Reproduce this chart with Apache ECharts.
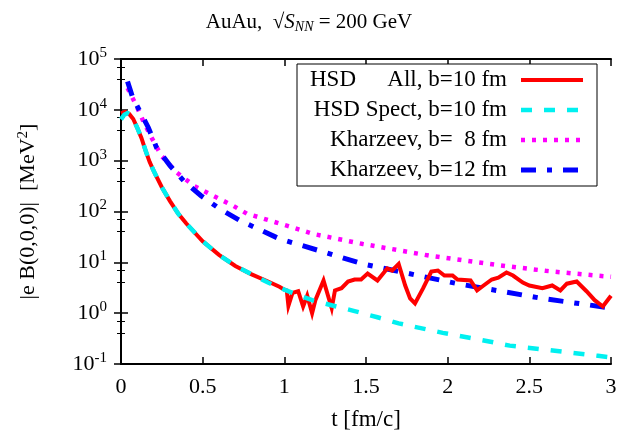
<!DOCTYPE html>
<html>
<head>
<meta charset="utf-8">
<script src="https://cdn.jsdelivr.net/npm/echarts@6/dist/echarts.min.js"></script>
<style>html,body{margin:0;padding:0;background:#fff}#c{width:621px;height:436px}</style>
</head>
<body>
<div id="c"></div>
<script>
// ---- data ----
const tAll = [0,0.025,0.05,0.075,0.1,0.125,0.15,0.175,0.2,0.25,0.3,0.35,0.4,0.5,0.6,0.7,0.8,0.9,0.97,1.0,1.015,1.025,1.05,1.085,1.115,1.14,1.17,1.19,1.24,1.29,1.31,1.35,1.39,1.43,1.47,1.51,1.57,1.63,1.66,1.70,1.74,1.77,1.80,1.85,1.90,1.94,1.98,2.03,2.06,2.14,2.18,2.22,2.27,2.31,2.36,2.40,2.46,2.50,2.58,2.64,2.69,2.73,2.79,2.85,2.90,2.95,3.0];
const bAll = [8500,9100,8300,6600,4400,2800,1600,950,630,300,160,91,58,26,14,8.5,5.8,4.2,3.3,2.9,2.8,1.4,2.5,2.7,1.35,2.2,1.0,1.8,4.4,1.25,2.8,3.1,4.2,4.6,4.6,6.0,4.4,7.6,6.9,9.3,3.5,1.95,1.55,3.1,6.6,6.9,5.5,5.5,4.6,4.4,2.8,3.5,4.6,5.0,6.3,5.5,4.0,3.5,3.1,3.5,2.8,3.8,4.2,2.7,1.8,1.35,2.2];
const tSpect = [0,0.02,0.04,0.06,0.075,0.1,0.125,0.15,0.175,0.2,0.25,0.3,0.35,0.4,0.5,0.6,0.7,0.8,0.9,1.0,1.17,1.3,1.43,1.57,1.7,1.97,2.2,2.38,2.67,2.92,3.0];
const bSpect = [6500,8000,8600,7900,6600,4400,2800,1600,950,630,300,160,91,58,26,14,8.5,5.8,4.0,2.9,1.8,1.4,1.1,0.83,0.63,0.41,0.3,0.23,0.18,0.145,0.135];
const tK8 = [0.04,0.096,0.137,0.188,0.249,0.34,0.45,0.565,0.688,0.77,1.02,1.18,1.48,1.89,2.3,2.6,2.91,3.0];
const bK8 = [27000,11700,5900,2800,1230,590,316,204,129,91,52,36,23,13.5,8.9,6.8,5.5,5.2];
const tK12 = [0.04,0.07,0.1,0.167,0.218,0.3,0.39,0.49,0.606,0.73,0.97,1.24,1.48,2.06,2.58,3.0];
const bK12 = [36000,18000,11700,4500,1800,800,380,204,112,66,29,16,9.3,3.8,1.95,1.26];
const xTicks = [0,0.5,1,1.5,2,2.5,3];
const seriesNames = ['HSD     All, b=10 fm','HSD Spect, b=10 fm','Kharzeev, b=  8 fm','Kharzeev, b=12 fm'];

const pairs = (t,b) => t.map((v,i)=>[v,b[i]]);
const FONT = '"Liberation Serif","Times New Roman",serif';
const chart = echarts.init(document.getElementById('c'), null, {renderer:'canvas'});

const axisCommon = {
  axisLine:{show:true, lineStyle:{color:'#000', width:2}},
  axisTick:{show:true, inside:true, length:7, lineStyle:{color:'#000', width:1.5}},
  splitLine:{show:false}
};
const styles = [
  {color:'#ff0000', width:4, type:'solid'},
  {color:'#00f0f0', width:4.5, type:[11,12]},
  {color:'#ff00ff', width:4.5, type:[4,7]},
  {color:'#0000ff', width:5, type:[15,11,5,11]}
];
const datasets = [pairs(tAll,bAll), pairs(tSpect,bSpect), pairs(tK8,bK8), pairs(tK12,bK12)];
const order = [2,3,1,0];

const rowsY = [80,110,140,170];
const graphics = [
  {type:'rect', z:100, shape:{x:297,y:64,width:300,height:122}, style:{fill:'#fff', stroke:'#000', lineWidth:1}},
  {type:'text', z:101, style:{text:'HSD', x:310, y:rowsY[0], align:'left', verticalAlign:'middle', font:'23px '+FONT, fill:'#000'}},
  {type:'text', z:101, style:{text:'All, b=10 fm', x:507, y:rowsY[0], align:'right', verticalAlign:'middle', font:'23px '+FONT, fill:'#000'}}
];
for (let i=1;i<4;i++) graphics.push({type:'text', z:101, style:{text:seriesNames[i], x:507, y:rowsY[i], align:'right', verticalAlign:'middle', font:'23px '+FONT, fill:'#000'}});
for (let i=0;i<4;i++) graphics.push({type:'line', z:101, shape:{x1:521,y1:rowsY[i],x2:583,y2:rowsY[i]}, style:{stroke:styles[i].color, lineWidth:styles[i].width, lineDash: styles[i].type==='solid'?null:styles[i].type}});
graphics.push({type:'text', z:101, style:{
  x:309, y:22, align:'center', verticalAlign:'middle',
  text:'{a|AuAu,  √}{i|S}{sub|NN}{a| = 200 GeV}',
  rich:{a:{font:'21px '+FONT, fill:'#000'}, i:{font:'italic 21px '+FONT, fill:'#000'}, sub:{font:'italic 14px '+FONT, fill:'#000', padding:[10,0,0,0]}}
}});

const yLabel = v => {
  const e = Math.round(Math.log10(v));
  return '{b|10}{s|' + e + '}';
};
chart.setOption({
  animation:false,
  backgroundColor:'#fff',
  grid:{left:121, top:59, width:490, height:307, containLabel:false},
  xAxis:[
    Object.assign({type:'value', position:'bottom', min:0, max:3, interval:0.5,
      axisLabel:{fontFamily:FONT, fontSize:22, color:'#000', margin:12, formatter:v=>String(v)},
      name:'t [fm/c]', nameLocation:'middle', nameGap:44, nameTextStyle:{fontFamily:FONT, fontSize:23, color:'#000'}}, axisCommon),
    Object.assign({type:'value', position:'top', min:0, max:3, interval:0.5, axisLabel:{show:false}}, axisCommon)
  ],
  yAxis:[
    Object.assign({type:'log', logBase:10, min:0.1, max:100000, position:'left',
      minorTick:{show:true, splitNumber:3, length:4, lineStyle:{color:'#000', width:1}},
      axisLabel:{margin:14, formatter:yLabel, rich:{b:{fontFamily:FONT, fontSize:22, color:'#000'}, s:{fontFamily:FONT, fontSize:15, color:'#000', padding:[0,0,12,0]}}},
      name:'|e B(0,0,0)|  [MeV{s|2}]', nameLocation:'middle', nameRotate:90, nameGap:80,
      nameTextStyle:{fontFamily:FONT, fontSize:22, color:'#000', rich:{s:{fontFamily:FONT, fontSize:15, color:'#000', padding:[0,0,10,0]}}}}, axisCommon),
    Object.assign({type:'log', logBase:10, min:0.1, max:100000, position:'right', axisLabel:{show:false},
      minorTick:{show:true, splitNumber:3, length:4, lineStyle:{color:'#000', width:1}}}, axisCommon)
  ],
  series: order.map(i=>({
    type:'line', name:seriesNames[i], data:datasets[i], showSymbol:false, symbol:'none', smooth:false,
    lineStyle:{color:styles[i].color, width:styles[i].width, type:styles[i].type, cap:'butt', join:'miter'},
    clip:true, z:2+ (i===0?3:i===1?4:1)
  })),
  graphic:graphics
});
</script>
</body>
</html>
